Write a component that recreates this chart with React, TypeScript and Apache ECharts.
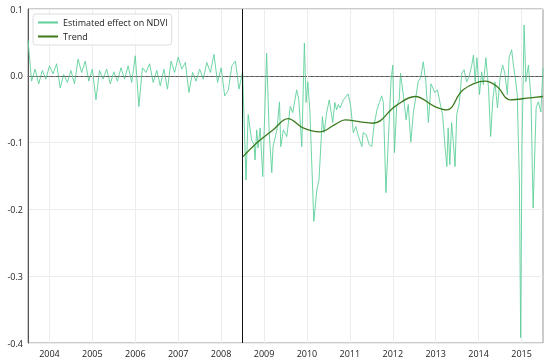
import React, { useEffect, useRef } from "react";
import * as echarts from "echarts";

// Monthly values from Jul 2003 (2003.5) to Jul 2008
const preStart = 2003.5;
const preValues = [
  0.054, -0.008, 0.01, -0.012, 0.008, -0.005, 0.015, 0.003, 0.018, -0.018, 0.002, -0.01,
  0.008, -0.012, 0.025, 0.005, 0.022, -0.008, 0.01, -0.036, 0.008, -0.005, 0.01, -0.012,
  0.006, -0.008, 0.012, -0.005, 0.015, -0.01, 0.03, -0.046, 0.012, 0.005, 0.018, -0.01,
  0.008, -0.015, 0.01, -0.02, 0.022, 0.005, 0.028, 0.01, 0.02, -0.025, 0.005, -0.008,
  0.01, -0.005, 0.02, 0.005, 0.032, -0.01, 0.012, -0.03, -0.022, 0.015, 0.022, -0.02,
  0.006,
];

const postYears = [
  2008.58, 2008.63, 2008.71, 2008.77, 2008.79, 2008.83, 2008.86, 2008.91, 2008.97, 2009.06,
  2009.12, 2009.18, 2009.21, 2009.3, 2009.36, 2009.39, 2009.45, 2009.53, 2009.61, 2009.67,
  2009.72, 2009.76, 2009.81, 2009.88, 2009.94, 2009.98, 2010.02, 2010.07, 2010.16, 2010.23,
  2010.28, 2010.36, 2010.4, 2010.46, 2010.52, 2010.6, 2010.65, 2010.69, 2010.73, 2010.77,
  2010.85, 2010.96, 2011.02, 2011.08, 2011.14, 2011.2, 2011.28, 2011.31, 2011.38, 2011.45,
  2011.51, 2011.56, 2011.63, 2011.69, 2011.74, 2011.78, 2011.84, 2011.9, 2011.96, 2012.0,
  2012.04, 2012.09, 2012.15, 2012.18, 2012.25, 2012.31, 2012.36, 2012.42, 2012.48, 2012.54,
  2012.59, 2012.65, 2012.71, 2012.77, 2012.83, 2012.89, 2012.98, 2013.04, 2013.1, 2013.16,
  2013.22, 2013.26, 2013.29, 2013.33, 2013.37, 2013.41, 2013.45, 2013.49, 2013.55, 2013.61,
  2013.66, 2013.72, 2013.78, 2013.84, 2013.88, 2013.92, 2013.96, 2014.02, 2014.07, 2014.11,
  2014.17, 2014.23, 2014.28, 2014.33, 2014.38, 2014.44, 2014.5, 2014.56, 2014.61, 2014.67,
  2014.71, 2014.77, 2014.81, 2014.85, 2014.9, 2014.95, 2014.98, 2015.01, 2015.06, 2015.1,
  2015.16, 2015.22, 2015.27, 2015.34, 2015.39, 2015.45, 2015.5,
];
const postValues = [
  -0.156, -0.058, -0.096, -0.103, -0.126, -0.081, -0.108, -0.078, -0.151, 0.034,
  -0.085, -0.145, -0.106, -0.081, -0.039, -0.106, -0.081, -0.091, -0.046, -0.055,
  -0.036, -0.021, -0.036, -0.106, 0.049, -0.04, -0.009, -0.055, -0.218, -0.171,
  -0.156, -0.061, -0.085, -0.055, -0.036, -0.07, -0.04, -0.051, -0.043, -0.048,
  -0.036, -0.027, -0.046, -0.085, -0.076, -0.091, -0.106, -0.085, -0.088, -0.103,
  -0.106, -0.076, -0.051, -0.04, -0.03, -0.04, -0.175, -0.091, -0.006, 0.016,
  -0.115, -0.046, -0.036, 0.004, -0.031, -0.066, -0.043, -0.099, -0.055, -0.031,
  -0.009, -0.003, 0.021, -0.009, -0.07, -0.012, -0.025, -0.021, -0.04, -0.058,
  -0.108, -0.136, -0.078, -0.133, -0.07, -0.099, -0.136, -0.058, -0.04, 0.004,
  0.009, -0.009, -0.001, 0.016, 0.031, -0.009, 0.027, -0.028, 0.006, -0.013,
  0.027, -0.018, -0.091, -0.036, -0.009, -0.048, -0.003, 0.016, 0.004, -0.028,
  0.027, 0.039, 0.016, -0.001, -0.028, -0.159, -0.392, -0.108, 0.076, -0.009,
  0.016, -0.033, -0.198, -0.048, -0.039, -0.054, 0.012,
];

const trendYears = [
  2008.51, 2008.84, 2009.21, 2009.56, 2009.91, 2010.3, 2010.65, 2010.89, 2011.24, 2011.54,
  2012.07, 2012.52, 2012.98, 2013.26, 2013.64, 2014.15, 2014.43, 2014.73, 2015.2, 2015.5,
];
const trendValues = [
  -0.121, -0.1, -0.081, -0.064, -0.078, -0.084, -0.073, -0.066, -0.069, -0.071,
  -0.045, -0.031, -0.046, -0.051, -0.021, -0.008, -0.016, -0.036, -0.033, -0.031,
];

const yearTicks = [2004, 2005, 2006, 2007, 2008, 2009, 2010, 2011, 2012, 2013, 2014, 2015];
const breakYear = 2008.5;
const xMin = 2003.5;
const xMax = 2015.5;
const yMin = -0.4;
const yMax = 0.1;

const FONT = "'Open Sans', sans-serif";

export default function App() {
  const ref = useRef<HTMLDivElement>(null);
  useEffect(() => {
    if (!ref.current) return;
    const chart = echarts.init(ref.current, undefined, { renderer: "svg" });
    const raw: number[][] = [];
    preValues.forEach((v, i) => raw.push([preStart + i / 12, v]));
    postYears.forEach((y, i) => raw.push([y, postValues[i]]));
    const trend = trendYears.map((y, i) => [y, trendValues[i]]);

    chart.setOption({
      animation: false,
      textStyle: { fontFamily: FONT },
      grid: {
        left: 28,
        right: 7,
        top: 9,
        bottom: 19,
        show: true,
        borderColor: "#999",
        borderWidth: 1,
        backgroundColor: "transparent",
      },
      legend: {
        orient: "vertical",
        left: 33,
        top: 14,
        padding: [4, 4, 4, 5],
        itemGap: 5,
        itemWidth: 20,
        itemHeight: 2,
        backgroundColor: "rgba(255,255,255,0.85)",
        borderColor: "#ddd",
        borderWidth: 1,
        borderRadius: 3,
        textStyle: { fontFamily: FONT, fontSize: 9, color: "#222", width: 92, overflow: "none" },
        data: [
          { name: "Estimated effect on NDVI", icon: "rect" },
          { name: "Trend", icon: "rect" },
        ],
      },
      xAxis: {
        type: "value",
        min: xMin,
        max: xMax,
        axisLine: { show: true, lineStyle: { color: "#555", width: 1 } },
        axisTick: { show: false, customValues: yearTicks },
        axisLabel: {
          customValues: yearTicks,
          formatter: (v: number) => String(Math.round(v)),
          fontFamily: FONT,
          fontSize: 9,
          color: "#222",
          margin: 6,
        },
        splitLine: { show: false },
      },
      yAxis: {
        type: "value",
        min: yMin,
        max: yMax,
        interval: 0.1,
        axisLine: { show: true, lineStyle: { color: "#555", width: 1 } },
        axisTick: { show: false },
        axisLabel: {
          formatter: (v: number) => (Math.abs(v) < 1e-9 ? "0.0" : v.toFixed(1)),
          fontFamily: FONT,
          fontSize: 9,
          color: "#222",
          margin: 5,
        },
        splitLine: { show: true, lineStyle: { color: "#ececec", width: 1 } },
      },
      series: [
        {
          name: "Estimated effect on NDVI",
          type: "line",
          data: raw,
          showSymbol: false,
          symbol: "none",
          color: "#5fd09b",
          lineStyle: { color: "#5fd09b", width: 0.9 },
          z: 3,
          markLine: {
            silent: true,
            symbol: "none",
            z: 1,
            label: { show: false },
            lineStyle: { color: "#ececec", type: "solid", width: 1 },
            data: yearTicks.map((y) => ({ xAxis: y })),
          },
        },
        {
          name: "Trend",
          type: "line",
          data: trend,
          showSymbol: false,
          symbol: "none",
          smooth: 0.4,
          color: "#3b7a1f",
          lineStyle: { color: "#3b7a1f", width: 1.3 },
          z: 4,
          markLine: {
            silent: true,
            symbol: "none",
            z: 5,
            label: { show: false },
            data: [
              { yAxis: 0, lineStyle: { color: "#777", type: [3, 2], width: 1 } },
              { xAxis: breakYear, lineStyle: { color: "#111", type: "solid", width: 1 } },
            ],
          },
        },
      ],
    });
    return () => chart.dispose();
  }, []);
  return (
    <div
      ref={ref}
      style={{ position: "fixed", left: 0, top: 0, width: 550, height: 362 }}
    />
  );
}
